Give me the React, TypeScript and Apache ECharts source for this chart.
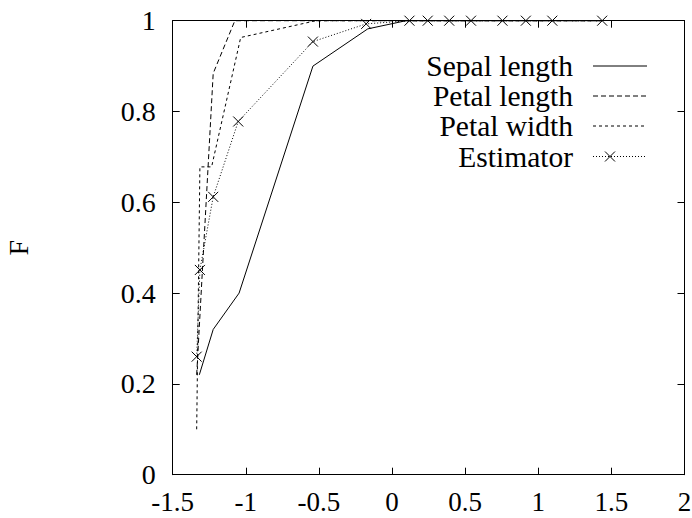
import React, { useEffect, useRef } from "react";
import * as echarts from "echarts";

const seriesNames = ["Sepal length", "Petal length", "Petal width", "Estimator"];

const sepalLength: [number, number][] = [
  [-1.318, 0.22], [-1.223, 0.32], [-1.046, 0.4], [-0.541, 0.9],
  [-0.166, 0.982], [0.096, 1.0], [1.437, 1.0],
];
const petalLength: [number, number][] = [
  [-1.336, 0.22], [-1.223, 0.884], [-1.075, 1.0], [1.437, 1.0],
];
const petalWidth: [number, number][] = [
  [-1.336, 0.1], [-1.314, 0.678], [-1.234, 0.678], [-1.035, 0.963],
  [-0.52, 1.0], [1.437, 1.0],
];
const estimator: [number, number][] = [
  [-1.336, 0.26], [-1.314, 0.451], [-1.223, 0.612], [-1.052, 0.778],
  [-0.541, 0.954], [-0.177, 0.993], [0.119, 1.0], [0.244, 1.0],
  [0.391, 1.0], [0.54, 1.0], [0.755, 1.0], [0.915, 1.0], [1.096, 1.0], [1.437, 1.0],
];

const xTicks = { min: -1.5, max: 2, interval: 0.5 };
const yTicks = { min: 0, max: 1, interval: 0.2 };

const FONT = "Liberation Serif";
const dashes: (number[] | null)[] = [null, [5, 3], [3, 3], [1, 2]];

export default function App() {
  const ref = useRef<HTMLDivElement>(null);
  useEffect(() => {
    if (!ref.current) return;
    const chart = echarts.init(ref.current, null, { renderer: "svg" });
    const cross = "path://M0,0L10,10M10,0L0,10";
    const datas = [sepalLength, petalLength, petalWidth, estimator];

    const axisCommon = {
      axisLine: { show: true, onZero: false, lineStyle: { color: "#000", width: 1 } },
      axisTick: { show: true, inside: true, length: 7, lineStyle: { color: "#000", width: 1 } },
      splitLine: { show: false },
    };

    const legendGraphics: any[] = [];
    const rowY = [66, 96, 126, 156.5];
    seriesNames.forEach((n, i) => {
      legendGraphics.push({
        type: "text",
        style: {
          text: n, x: 573, y: rowY[i], textAlign: "right", textVerticalAlign: "middle",
          fontFamily: FONT, fontSize: 29.5, fill: "#000",
        },
      });
      legendGraphics.push({
        type: "line",
        shape: { x1: 593, y1: rowY[i], x2: 647, y2: rowY[i] },
        style: { stroke: "#000", lineWidth: 1, lineDash: dashes[i] || undefined },
      });
    });
    const cx = 610, cy = rowY[3];
    legendGraphics.push({ type: "line", shape: { x1: cx - 5, y1: cy - 5, x2: cx + 5, y2: cy + 5 }, style: { stroke: "#000", lineWidth: 1 } });
    legendGraphics.push({ type: "line", shape: { x1: cx - 5, y1: cy + 5, x2: cx + 5, y2: cy - 5 }, style: { stroke: "#000", lineWidth: 1 } });

    chart.setOption({
      animation: false,
      backgroundColor: "#fff",
      grid: {
        left: 172.7, right: 7.5, top: 20.7, bottom: 43.3,
        containLabel: false, outerBoundsMode: "none",
      },
      xAxis: [
        {
          type: "value", position: "bottom", ...xTicks, ...axisCommon,
          axisLabel: {
            margin: 16, lineHeight: 22, color: "#000", fontFamily: FONT, fontSize: 27,
            formatter: (v: number) => String(Math.round(v * 10) / 10),
          },
        },
        {
          type: "value", position: "top", ...xTicks, ...axisCommon,
          axisLabel: { show: false },
        },
      ],
      yAxis: [
        {
          type: "value", position: "left", ...yTicks, ...axisCommon,
          name: "F", nameLocation: "middle", nameGap: 140, nameRotate: 90,
          nameTextStyle: { color: "#000", fontFamily: FONT, fontSize: 28 },
          axisLabel: {
            margin: 17, color: "#000", fontFamily: FONT, fontSize: 28,
            formatter: (v: number) => String(Math.round(v * 10) / 10),
          },
        },
        {
          type: "value", position: "right", ...yTicks, ...axisCommon,
          axisLabel: { show: false },
        },
      ],
      series: datas.map((d, i) => ({
        name: seriesNames[i],
        type: "line",
        data: d,
        xAxisIndex: 0,
        yAxisIndex: 0,
        clip: false,
        symbol: i === 3 ? cross : "none",
        symbolSize: 10,
        showSymbol: i === 3,
        itemStyle: { color: "none", borderColor: "#000", borderWidth: 1 },
        lineStyle: { color: "#000", width: 1, type: dashes[i] || "solid" },
        emphasis: { disabled: true },
      })),
      graphic: legendGraphics,
    });
    return () => chart.dispose();
  }, []);
  return (
    <div
      ref={ref}
      style={{ position: "fixed", left: 0, top: 0, width: 692, height: 518, background: "#fff" }}
    />
  );
}
